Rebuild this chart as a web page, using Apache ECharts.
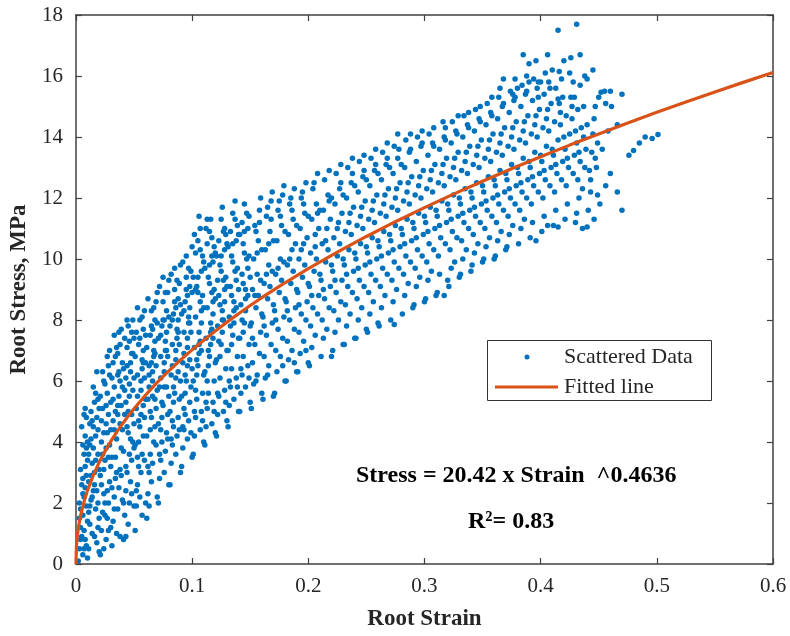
<!DOCTYPE html>
<html>
<head>
<meta charset="utf-8">
<script src="https://cdn.jsdelivr.net/npm/echarts@6/dist/echarts.min.js"></script>
<style>
html,body{margin:0;padding:0;background:#fff;}
#chart{width:790px;height:636px;}
</style>
</head>
<body>
<div id="chart"></div>
<script>
// ---- data ----
const xTicks = [0, 0.1, 0.2, 0.3, 0.4, 0.5, 0.6];
const yTicks = [0, 2, 4, 6, 8, 10, 12, 14, 16, 18];
const xTitle = 'Root Strain';
const yTitle = 'Root Stress, MPa';
const legendNames = ['Scattered Data', 'Fitted line'];
const equationText = 'Stress = 20.42 x Strain  ^0.4636';
const r2Text = 'R²= 0.83';

// fitted curve (Strain, Stress)
const fitStrain = [0, 0.0005, 0.001, 0.0015, 0.0025, 0.0035, 0.005, 0.0075, 0.01, 0.015, 0.02, 0.025, 0.03, 0.035, 0.04, 0.045, 0.05, 0.06, 0.07, 0.08, 0.09, 0.1, 0.11, 0.12, 0.13, 0.14, 0.15, 0.16, 0.175, 0.18, 0.2, 0.225, 0.25, 0.275, 0.3, 0.325, 0.35, 0.375, 0.4, 0.425, 0.45, 0.475, 0.5, 0.525, 0.55, 0.575, 0.6];
const fitStress = [0, 0.602, 0.830, 1.002, 1.270, 1.484, 1.751, 2.113, 2.414, 2.914, 3.330, 3.693, 4.018, 4.316, 4.592, 4.849, 5.092, 5.542, 5.952, 6.332, 6.688, 7.022, 7.339, 7.641, 7.930, 8.207, 8.474, 8.731, 9.102, 9.221, 9.683, 10.226, 10.739, 11.223, 11.686, 12.127, 12.552, 12.959, 13.353, 13.734, 14.102, 14.461, 14.809, 15.148, 15.478, 15.799, 16.114];

// scattered data, grouped by strain range
const scatterA = [ // 0 - 0.05
[0.002,0.1],[0.003,0.5],[0.004,1.2],[0.003,2.0],[0.005,2.6],[0.004,3.1],[0.006,0.3],[0.006,1.6],[0.007,2.2],[0.007,3.6],[0.008,0.8],[0.008,4.2],[0.009,1.9],[0.009,2.9],[0.010,0.2],[0.010,3.4],[0.005,4.5],[0.008,5.1],[0.006,3.9],[0.009,4.8],[0.004,0.8],[0.007,1.1],[0.010,1.4],[0.009,0.6],[0.003,1.5],[0.008,2.5],[0.010,4.0],[0.006,2.8],[0.005,0.9],[0.007,4.9],
[0.011,0.5],[0.012,1.3],[0.013,2.1],[0.011,2.7],[0.014,3.3],[0.012,3.9],[0.015,4.5],[0.013,5.0],[0.016,0.9],[0.017,1.8],[0.018,2.4],[0.016,3.0],[0.019,3.6],[0.017,4.2],[0.018,4.8],[0.019,5.4],[0.015,5.8],[0.018,6.3],[0.020,0.4],[0.020,1.5],[0.014,1.0],[0.012,4.6],[0.019,2.0],[0.016,2.6],[0.011,3.6],[0.013,4.1],[0.020,3.1],[0.017,5.6],[0.014,2.2],[0.019,4.4],[0.015,3.8],[0.018,0.7],[0.012,1.9],[0.020,5.1],
[0.021,0.3],[0.022,1.1],[0.023,1.7],[0.024,2.3],[0.021,2.9],[0.025,3.4],[0.022,4.0],[0.026,4.6],[0.023,5.1],[0.027,5.6],[0.024,6.0],[0.028,6.5],[0.029,7.0],[0.026,0.8],[0.027,1.5],[0.028,2.0],[0.029,2.7],[0.030,3.2],[0.026,3.8],[0.027,4.3],[0.028,4.9],[0.030,5.3],[0.025,5.9],[0.029,6.2],[0.021,5.5],[0.022,4.7],[0.024,3.1],[0.030,1.2],[0.025,2.0],[0.023,3.6],[0.028,3.5],[0.030,4.4],[0.027,6.8],[0.024,0.5],
[0.031,0.6],[0.032,1.4],[0.033,2.2],[0.034,2.8],[0.031,3.5],[0.035,4.1],[0.032,4.7],[0.036,5.2],[0.033,5.8],[0.037,6.3],[0.034,6.8],[0.038,7.2],[0.039,7.7],[0.035,1.0],[0.036,1.8],[0.037,2.5],[0.038,3.1],[0.039,3.8],[0.040,4.4],[0.036,4.9],[0.037,5.5],[0.038,6.0],[0.040,6.6],[0.035,7.1],[0.031,6.1],[0.033,4.4],[0.039,5.2],[0.040,2.1],[0.034,3.5],[0.032,5.4],[0.036,6.9],[0.038,0.9],[0.040,5.8],[0.033,7.5],
[0.041,0.8],[0.042,1.6],[0.043,2.4],[0.044,3.0],[0.041,3.7],[0.045,4.3],[0.042,4.9],[0.046,5.5],[0.043,6.1],[0.047,6.6],[0.044,7.1],[0.048,7.6],[0.049,8.0],[0.045,1.3],[0.046,2.0],[0.047,2.7],[0.048,3.4],[0.049,4.0],[0.050,4.6],[0.046,5.9],[0.047,6.3],[0.048,6.9],[0.050,7.4],[0.045,7.8],[0.041,6.4],[0.043,5.3],[0.049,5.7],[0.050,1.9],[0.044,4.5],[0.042,7.4],[0.048,4.9],[0.046,3.6],[0.050,6.1],[0.043,0.9]
];
const scatterB = [ // 0.05 - 0.10
[0.051,1.1],[0.052,1.9],[0.053,2.6],[0.054,3.2],[0.051,3.9],[0.055,4.5],[0.052,5.1],[0.056,5.7],[0.053,6.2],[0.057,6.7],[0.054,7.2],[0.058,7.7],[0.059,8.3],[0.055,2.2],[0.056,3.0],[0.057,3.6],[0.058,4.2],[0.059,4.8],[0.060,5.4],[0.056,6.0],[0.057,6.4],[0.058,7.0],[0.060,7.5],[0.055,8.0],[0.051,6.8],[0.053,5.5],[0.059,6.1],[0.060,2.0],[0.054,4.7],[0.052,7.6],[0.058,5.2],[0.053,8.4],[0.057,1.6],[0.060,6.6],
[0.061,1.5],[0.062,2.3],[0.063,3.0],[0.064,3.6],[0.061,4.2],[0.065,4.8],[0.062,5.4],[0.066,6.0],[0.063,6.5],[0.067,7.0],[0.064,7.5],[0.068,8.0],[0.069,8.6],[0.065,2.7],[0.066,3.3],[0.067,4.0],[0.068,4.5],[0.069,5.1],[0.070,5.7],[0.066,6.3],[0.067,6.8],[0.068,7.3],[0.070,7.9],[0.065,8.3],[0.061,7.1],[0.063,5.8],[0.069,6.5],[0.070,2.2],[0.064,5.0],[0.062,8.7],[0.068,5.4],[0.066,7.7],[0.063,1.9],[0.070,8.9],[0.065,6.6],
[0.071,2.0],[0.072,2.8],[0.073,3.4],[0.074,4.0],[0.071,4.6],[0.075,5.2],[0.072,5.8],[0.076,6.3],[0.073,6.8],[0.077,7.3],[0.074,7.8],[0.078,8.3],[0.079,8.9],[0.075,9.4],[0.076,3.0],[0.077,3.7],[0.078,4.3],[0.079,4.9],[0.080,5.5],[0.076,6.6],[0.077,7.0],[0.078,7.6],[0.080,8.1],[0.075,8.6],[0.071,7.4],[0.073,6.1],[0.079,6.8],[0.080,2.6],[0.074,5.3],[0.072,9.1],[0.078,5.8],[0.076,8.0],[0.080,9.3],[0.073,4.4],
[0.081,2.6],[0.082,3.3],[0.083,3.9],[0.084,4.5],[0.081,5.0],[0.085,5.6],[0.082,6.2],[0.086,6.7],[0.083,7.2],[0.087,7.7],[0.084,8.2],[0.088,8.7],[0.089,9.2],[0.085,9.7],[0.086,3.6],[0.087,4.2],[0.088,4.8],[0.089,5.4],[0.090,6.0],[0.086,7.0],[0.087,7.4],[0.088,8.0],[0.090,8.5],[0.085,9.0],[0.081,7.8],[0.083,6.5],[0.089,7.2],[0.090,3.0],[0.084,5.8],[0.082,9.5],[0.088,6.3],[0.086,8.4],[0.090,9.8],[0.083,4.7],
[0.091,3.2],[0.092,3.8],[0.093,4.4],[0.094,4.9],[0.091,5.5],[0.095,6.0],[0.092,6.6],[0.096,7.1],[0.093,7.6],[0.097,8.1],[0.094,8.6],[0.098,9.1],[0.099,9.6],[0.095,10.1],[0.096,4.1],[0.097,4.7],[0.098,5.3],[0.099,5.8],[0.100,6.4],[0.096,7.4],[0.097,7.9],[0.098,8.4],[0.100,8.9],[0.095,9.4],[0.091,8.2],[0.093,6.9],[0.099,7.6],[0.100,3.5],[0.094,6.2],[0.092,9.9],[0.098,6.7],[0.096,8.8],[0.100,10.4],[0.093,5.1]
];
const scatterC = [ // 0.10 - 0.20
[0.101,3.6],[0.102,4.2],[0.103,4.8],[0.104,5.4],[0.101,6.0],[0.105,6.5],[0.102,7.1],[0.106,7.6],[0.103,8.1],[0.107,8.6],[0.104,9.1],[0.108,9.6],[0.109,10.1],[0.105,10.6],[0.106,11.4],[0.107,4.4],[0.108,5.0],[0.109,5.6],[0.110,6.2],[0.106,6.9],[0.107,7.3],[0.108,7.9],[0.110,8.4],[0.105,8.9],[0.101,9.4],[0.103,10.2],[0.109,8.8],[0.110,4.0],[0.104,6.7],[0.102,10.8],[0.108,7.0],[0.110,9.9],[0.103,5.7],[0.107,11.0],
[0.111,3.9],[0.112,4.5],[0.113,5.1],[0.114,5.6],[0.111,6.3],[0.115,6.8],[0.112,7.4],[0.116,7.9],[0.113,8.4],[0.117,8.9],[0.114,9.4],[0.118,9.9],[0.119,10.4],[0.115,10.9],[0.116,11.3],[0.117,4.6],[0.118,5.3],[0.119,6.0],[0.120,6.6],[0.116,7.2],[0.117,7.7],[0.118,8.2],[0.120,8.7],[0.115,9.2],[0.111,9.7],[0.113,10.5],[0.119,9.0],[0.120,4.3],[0.114,7.0],[0.112,11.0],[0.118,7.4],[0.120,10.2],[0.113,6.0],[0.117,10.7],
[0.121,4.2],[0.122,4.9],[0.123,5.5],[0.124,6.1],[0.121,6.7],[0.125,7.2],[0.122,7.8],[0.126,8.3],[0.123,8.8],[0.127,9.3],[0.124,9.8],[0.128,10.3],[0.129,10.8],[0.125,11.3],[0.126,11.7],[0.127,5.0],[0.128,5.7],[0.129,6.4],[0.130,7.0],[0.126,7.6],[0.127,8.0],[0.128,8.6],[0.130,9.1],[0.125,9.6],[0.121,10.1],[0.123,10.6],[0.129,9.4],[0.130,4.7],[0.124,8.5],[0.128,11.0],[0.122,9.3],[0.130,10.5],
[0.131,4.5],[0.132,5.2],[0.133,5.8],[0.134,6.4],[0.131,7.0],[0.135,7.5],[0.132,8.1],[0.136,8.6],[0.133,9.1],[0.137,9.6],[0.134,10.1],[0.138,10.6],[0.139,11.1],[0.135,11.5],[0.137,11.9],[0.136,5.4],[0.138,6.1],[0.139,6.8],[0.140,7.4],[0.136,7.9],[0.138,8.4],[0.140,9.0],[0.135,9.9],[0.131,10.4],[0.133,10.9],[0.139,9.7],[0.140,5.0],[0.134,8.8],[0.140,10.8],
[0.141,5.0],[0.142,5.6],[0.143,6.2],[0.144,6.8],[0.141,7.4],[0.145,7.9],[0.142,8.5],[0.146,9.0],[0.143,9.5],[0.147,10.0],[0.144,10.5],[0.148,11.0],[0.149,11.4],[0.145,11.8],[0.146,5.8],[0.148,6.5],[0.149,7.2],[0.150,7.8],[0.146,8.3],[0.148,8.8],[0.150,9.4],[0.145,10.2],[0.141,10.8],[0.143,11.2],[0.149,10.1],[0.150,5.3],[0.144,9.2],
[0.151,5.1],[0.153,5.9],[0.152,6.6],[0.154,7.2],[0.151,7.9],[0.155,8.4],[0.152,9.0],[0.156,9.5],[0.153,10.0],[0.157,10.6],[0.154,11.1],[0.158,11.6],[0.159,12.0],[0.156,6.2],[0.158,6.9],[0.159,7.6],[0.160,8.2],[0.157,8.8],[0.159,9.3],[0.160,10.3],[0.155,10.9],[0.160,5.6],
[0.161,5.4],[0.163,6.1],[0.162,6.8],[0.164,7.5],[0.161,8.1],[0.165,8.7],[0.162,9.2],[0.166,9.8],[0.163,10.3],[0.167,10.9],[0.164,11.4],[0.168,11.9],[0.166,6.5],[0.168,7.2],[0.169,7.9],[0.170,8.5],[0.167,9.1],[0.169,9.6],[0.170,10.6],[0.165,11.7],[0.170,5.5],[0.169,12.2],
[0.171,5.6],[0.173,6.3],[0.172,7.0],[0.174,7.7],[0.171,8.3],[0.175,8.9],[0.172,9.5],[0.176,10.0],[0.173,10.6],[0.177,11.1],[0.174,11.6],[0.178,12.1],[0.176,6.8],[0.178,7.4],[0.179,8.1],[0.180,8.7],[0.177,9.3],[0.179,9.9],[0.180,10.9],[0.175,11.9],[0.180,6.0],[0.179,12.4],
[0.181,6.0],[0.183,6.7],[0.182,7.3],[0.184,8.0],[0.181,8.6],[0.185,9.2],[0.182,9.8],[0.186,10.3],[0.183,10.8],[0.187,11.3],[0.184,11.8],[0.188,12.3],[0.186,7.0],[0.188,7.7],[0.189,8.4],[0.190,9.0],[0.187,9.6],[0.189,10.5],[0.190,11.1],[0.185,12.0],[0.190,6.3],
[0.191,6.3],[0.193,6.9],[0.192,7.6],[0.194,8.2],[0.191,8.9],[0.195,9.4],[0.192,10.0],[0.196,10.5],[0.193,11.0],[0.197,11.5],[0.194,12.0],[0.198,12.5],[0.196,7.3],[0.198,8.0],[0.199,8.6],[0.200,9.2],[0.197,9.8],[0.199,10.7],[0.200,11.4],[0.195,12.2],[0.200,6.6]
];
const scatterD = [ // 0.20 - 0.30
[0.201,6.5],[0.203,7.1],[0.202,7.8],[0.204,8.4],[0.201,9.1],[0.205,9.6],[0.202,10.2],[0.206,10.8],[0.203,11.3],[0.207,11.8],[0.204,12.3],[0.208,12.8],[0.206,7.5],[0.208,8.2],[0.209,8.8],[0.210,9.5],[0.207,10.0],[0.209,11.0],[0.210,11.6],[0.205,12.5],
[0.211,6.8],[0.213,7.4],[0.212,8.0],[0.214,8.7],[0.211,9.3],[0.215,9.9],[0.212,10.5],[0.216,11.0],[0.213,11.6],[0.217,12.1],[0.214,12.6],[0.218,12.9],[0.216,7.7],[0.218,8.4],[0.219,9.1],[0.220,9.8],[0.217,10.3],[0.219,11.3],[0.220,12.0],[0.220,6.8],
[0.221,7.0],[0.223,7.6],[0.222,8.3],[0.224,8.9],[0.221,9.6],[0.225,10.1],[0.222,10.7],[0.226,11.2],[0.223,11.8],[0.227,12.3],[0.224,12.8],[0.228,13.1],[0.226,8.0],[0.228,8.6],[0.229,9.3],[0.230,10.0],[0.227,10.5],[0.229,11.5],[0.230,12.1],[0.230,7.2],
[0.231,7.2],[0.233,7.8],[0.232,8.5],[0.234,9.1],[0.231,9.8],[0.235,10.3],[0.232,10.9],[0.236,11.5],[0.233,12.0],[0.237,12.5],[0.234,13.0],[0.238,13.3],[0.236,8.2],[0.238,8.9],[0.239,9.6],[0.240,10.2],[0.237,10.8],[0.239,11.7],[0.240,12.4],[0.240,7.4],
[0.241,7.4],[0.243,8.0],[0.242,8.7],[0.244,9.3],[0.241,10.0],[0.245,10.5],[0.242,11.1],[0.246,11.7],[0.243,12.2],[0.247,12.7],[0.244,13.2],[0.248,13.4],[0.246,8.4],[0.248,9.1],[0.249,9.8],[0.250,10.4],[0.247,11.0],[0.249,11.9],[0.250,12.6],[0.250,7.7],
[0.251,7.6],[0.253,8.2],[0.252,8.9],[0.254,9.5],[0.251,10.2],[0.255,10.7],[0.252,11.3],[0.256,11.9],[0.253,12.4],[0.257,12.9],[0.254,13.3],[0.258,13.6],[0.256,8.6],[0.258,9.3],[0.259,10.0],[0.260,10.6],[0.257,11.2],[0.259,12.1],[0.260,12.8],[0.260,7.9],
[0.261,7.8],[0.263,8.4],[0.262,9.1],[0.264,9.7],[0.261,10.4],[0.265,10.9],[0.262,11.5],[0.266,12.1],[0.263,12.6],[0.267,13.1],[0.264,13.5],[0.268,13.8],[0.266,8.8],[0.268,9.5],[0.269,10.2],[0.270,10.8],[0.267,11.4],[0.269,12.3],[0.270,13.0],
[0.271,8.0],[0.274,7.85],[0.273,8.6],[0.272,9.3],[0.274,9.9],[0.271,10.6],[0.275,11.1],[0.272,11.7],[0.276,12.3],[0.273,12.8],[0.277,13.3],[0.274,13.7],[0.277,14.1],[0.276,9.0],[0.278,9.7],[0.279,10.4],[0.280,11.0],[0.277,11.6],[0.279,12.5],[0.280,13.1],
[0.281,8.2],[0.283,8.8],[0.282,9.5],[0.284,10.1],[0.281,10.8],[0.285,11.3],[0.282,11.9],[0.286,12.5],[0.283,13.0],[0.287,13.5],[0.284,13.9],[0.288,14.1],[0.286,9.2],[0.288,9.9],[0.289,10.6],[0.290,11.2],[0.287,11.8],[0.289,12.7],[0.290,8.4],
[0.291,8.5],[0.293,9.1],[0.292,9.7],[0.294,10.3],[0.291,11.0],[0.295,11.5],[0.292,12.1],[0.296,12.7],[0.293,13.2],[0.297,13.7],[0.294,14.0],[0.298,14.2],[0.296,9.4],[0.298,10.1],[0.299,10.8],[0.300,11.4],[0.297,12.0],[0.299,12.9],[0.300,8.6]
];
const scatterE = [ // 0.30 - 0.40
[0.301,8.7],[0.303,9.3],[0.302,9.9],[0.304,10.5],[0.301,11.2],[0.305,11.7],[0.302,12.3],[0.306,12.9],[0.303,13.4],[0.307,13.8],[0.304,14.1],[0.308,14.3],[0.306,9.6],[0.308,10.3],[0.309,11.0],[0.310,11.6],[0.307,12.2],[0.309,13.1],[0.310,8.8],
[0.311,8.9],[0.313,9.5],[0.312,10.1],[0.314,10.7],[0.311,11.4],[0.315,11.9],[0.312,12.5],[0.316,13.1],[0.313,13.6],[0.317,14.0],[0.316,14.5],[0.318,14.3],[0.317,8.8],[0.318,10.5],[0.319,11.2],[0.320,11.8],[0.317,12.4],[0.319,13.3],[0.320,9.3],
[0.321,9.1],[0.323,9.7],[0.322,10.3],[0.324,10.9],[0.321,11.6],[0.325,12.1],[0.322,12.7],[0.326,13.3],[0.323,13.8],[0.327,14.2],[0.324,14.5],[0.329,14.7],[0.326,9.9],[0.328,10.7],[0.329,11.4],[0.330,12.0],[0.327,12.6],[0.329,13.5],[0.330,9.4],
[0.331,9.5],[0.333,10.0],[0.332,10.6],[0.334,11.2],[0.331,11.8],[0.335,12.3],[0.332,12.9],[0.336,13.5],[0.333,14.0],[0.337,14.4],[0.334,14.7],[0.338,14.8],[0.336,10.3],[0.338,11.0],[0.339,11.6],[0.340,12.2],[0.337,12.8],[0.339,13.7],[0.340,9.6],
[0.341,9.8],[0.343,10.2],[0.342,10.8],[0.344,11.4],[0.341,12.0],[0.345,12.5],[0.342,13.1],[0.346,13.7],[0.343,14.2],[0.347,14.6],[0.344,14.9],[0.348,15.0],[0.346,10.5],[0.348,11.2],[0.349,11.8],[0.350,12.4],[0.347,13.0],[0.349,13.9],[0.350,9.9],
[0.351,10.0],[0.353,10.4],[0.352,11.0],[0.354,11.6],[0.351,12.2],[0.355,12.7],[0.352,13.3],[0.356,13.9],[0.353,14.4],[0.357,14.8],[0.354,15.1],[0.358,15.3],[0.356,10.7],[0.358,11.4],[0.359,12.0],[0.360,12.6],[0.357,13.2],[0.359,14.1],[0.360,10.0],
[0.361,10.1],[0.363,10.6],[0.362,11.2],[0.364,11.8],[0.361,12.4],[0.365,12.9],[0.362,13.5],[0.366,14.1],[0.363,14.6],[0.367,15.0],[0.364,15.3],[0.368,15.9],[0.365,15.6],[0.366,10.9],[0.368,11.6],[0.369,12.2],[0.370,12.8],[0.367,13.4],[0.369,14.3],[0.370,10.3],
[0.371,10.4],[0.373,10.8],[0.372,11.4],[0.374,12.0],[0.371,12.6],[0.375,13.1],[0.372,13.7],[0.376,14.3],[0.373,14.8],[0.377,15.2],[0.374,15.5],[0.378,15.9],[0.376,15.4],[0.376,11.1],[0.378,11.8],[0.379,12.4],[0.380,13.0],[0.377,13.6],[0.379,14.5],[0.380,15.6],
[0.381,10.5],[0.383,11.0],[0.382,11.6],[0.384,12.2],[0.381,12.8],[0.385,13.3],[0.382,13.9],[0.386,14.5],[0.383,15.0],[0.387,15.4],[0.384,15.7],[0.385,16.7],[0.388,16.0],[0.386,11.3],[0.388,12.0],[0.389,12.6],[0.390,13.2],[0.387,13.8],[0.389,14.7],[0.390,16.4],[0.390,15.8],
[0.391,10.7],[0.393,11.2],[0.392,11.8],[0.394,12.4],[0.391,13.0],[0.395,13.5],[0.392,14.1],[0.396,14.7],[0.393,15.2],[0.397,15.6],[0.394,15.9],[0.396,16.5],[0.398,15.8],[0.396,10.6],[0.398,12.2],[0.399,12.8],[0.400,13.4],[0.397,14.0],[0.399,14.9],[0.400,15.8]
];
const scatterF = [ // 0.40 - 0.50
[0.401,10.9],[0.403,11.4],[0.402,12.0],[0.404,12.6],[0.401,13.2],[0.405,13.7],[0.402,14.3],[0.406,14.9],[0.403,15.4],[0.407,15.8],[0.404,16.1],[0.406,16.7],[0.410,16.2],[0.406,11.1],[0.408,12.4],[0.409,13.0],[0.410,13.6],[0.407,14.2],[0.409,15.1],
[0.411,11.1],[0.415,11.05],[0.413,11.6],[0.412,12.2],[0.414,12.8],[0.411,13.4],[0.415,13.9],[0.412,14.5],[0.416,15.1],[0.413,15.6],[0.415,15.25],[0.416,16.15],[0.415,17.5],[0.418,12.6],[0.419,13.2],[0.420,14.0],[0.417,14.4],[0.419,15.3],[0.420,16.5],
[0.421,11.3],[0.423,11.8],[0.422,12.4],[0.424,13.0],[0.421,13.6],[0.425,14.1],[0.422,14.7],[0.426,15.3],[0.425,16.1],[0.426,16.6],[0.428,12.8],[0.429,13.4],[0.430,14.2],[0.427,14.6],[0.429,15.3],[0.430,11.2],[0.431,17.7],
[0.431,11.5],[0.433,12.0],[0.432,12.6],[0.434,13.2],[0.431,13.8],[0.435,14.3],[0.432,14.9],[0.434,15.7],[0.434,16.7],[0.436,12.3],[0.438,13.0],[0.439,13.6],[0.440,14.4],[0.437,15.0],[0.440,15.9],[0.440,11.05],[0.436,11.0],
[0.441,11.6],[0.443,12.2],[0.442,12.9],[0.444,13.5],[0.445,14.1],[0.446,14.6],[0.445,16.2],[0.447,15.0],[0.448,13.0],[0.449,13.8],[0.450,15.3],[0.446,11.3],[0.449,12.1],
[0.452,15.47],[0.455,15.5],[0.456,15.1],[0.460,15.5],[0.461,15.0],[0.470,15.4],[0.466,14.4],[0.456,12.4],[0.460,12.8],[0.466,12.2],[0.470,11.6],[0.476,13.4],[0.480,13.56],[0.485,13.8],[0.490,14.0],[0.496,13.95],[0.501,14.08],[0.453,13.6],[0.458,14.2],[0.451,11.8]
];
const scatterG = [ // extra points filling the dense cloud
[0.004,1.8],[0.006,2.3],[0.008,3.2],[0.007,0.5],[0.009,3.8],[0.011,1.7],[0.013,2.9],[0.015,2.4],[0.017,3.4],[0.014,4.7],[0.016,5.3],[0.019,1.2],[0.022,2.6],[0.024,4.3],[0.026,5.2],[0.023,6.3],[0.028,1.1],[0.025,1.6],[0.029,3.9],[0.027,2.4],[0.031,2.5],[0.033,1.8],[0.035,3.0],[0.034,5.0],[0.036,6.2],[0.038,4.6],[0.032,6.6],[0.039,2.9],[0.037,7.6],[0.041,2.0],[0.043,3.2],[0.045,5.0],[0.044,6.5],[0.047,4.1],[0.049,6.9],[0.046,7.3],[0.048,2.3],[0.042,5.7],[0.050,3.8],[0.044,8.0],
[0.052,2.4],[0.054,4.0],[0.056,4.9],[0.058,6.6],[0.055,7.4],[0.059,3.4],[0.057,8.1],[0.053,3.5],[0.062,3.2],[0.064,4.4],[0.066,5.5],[0.068,6.9],[0.065,7.8],[0.069,3.9],[0.067,8.4],[0.063,6.2],[0.072,3.6],[0.074,4.8],[0.076,5.8],[0.078,7.0],[0.075,8.0],[0.079,4.1],[0.077,8.9],[0.073,7.5],[0.082,4.1],[0.084,5.3],[0.086,6.1],[0.088,7.6],[0.085,8.6],[0.089,4.4],[0.087,9.3],[0.083,8.0],[0.092,4.5],[0.094,5.6],[0.096,6.5],[0.098,7.9],[0.095,9.0],[0.099,4.3],[0.097,9.7],[0.093,8.3],
[0.102,5.0],[0.104,6.2],[0.106,7.2],[0.108,8.3],[0.105,9.4],[0.109,4.7],[0.107,10.3],[0.103,9.0],[0.112,5.3],[0.114,6.5],[0.116,7.6],[0.118,8.6],[0.115,9.8],[0.119,5.0],[0.117,10.1],[0.113,11.3],[0.122,5.6],[0.124,6.8],[0.126,8.0],[0.128,9.0],[0.125,10.1],[0.129,5.3],[0.127,10.9],[0.123,7.3],[0.132,6.0],[0.134,7.2],[0.136,8.3],[0.138,9.3],[0.135,10.5],[0.139,5.8],[0.137,11.3],[0.133,7.8],[0.142,6.4],[0.144,7.6],[0.146,8.7],[0.148,9.7],[0.145,10.9],[0.149,6.1],[0.147,11.5],[0.143,8.0],
[0.152,7.4],[0.154,8.8],[0.156,10.2],[0.158,11.2],[0.155,6.0],[0.162,7.8],[0.164,9.5],[0.166,10.5],[0.168,11.3],[0.165,6.2],[0.172,8.0],[0.174,9.7],[0.176,11.4],[0.178,6.5],[0.182,8.3],[0.184,10.0],[0.186,11.6],[0.188,6.6],[0.192,8.5],[0.194,10.3],[0.196,11.8],[0.198,7.0],
[0.203,8.8],[0.206,10.4],[0.208,11.5],[0.213,9.0],[0.215,10.6],[0.218,11.9],[0.223,9.3],[0.225,11.0],[0.228,12.5],[0.233,9.5],[0.235,11.2],[0.238,12.8],[0.243,9.7],[0.245,11.4],[0.248,12.9],[0.253,9.9],[0.255,11.6],[0.258,13.1],[0.263,10.1],[0.265,11.8],[0.268,13.3],[0.273,10.3],[0.275,12.0],[0.278,13.6],[0.283,10.5],[0.285,12.2],[0.288,13.6],[0.293,10.7],[0.295,12.4],[0.298,13.8],
[0.303,10.9],[0.305,12.6],[0.308,13.7],[0.313,11.1],[0.315,12.8],[0.318,13.9],[0.323,11.3],[0.325,13.0],[0.328,14.1],[0.333,11.5],[0.335,13.2],[0.338,14.3],[0.343,11.7],[0.345,13.4],[0.348,14.5],[0.353,11.9],[0.355,13.6],[0.358,14.7],[0.363,12.1],[0.365,13.8],[0.368,15.1],[0.373,12.3],[0.375,14.0],[0.378,15.3],[0.383,12.5],[0.385,14.2],[0.388,15.5],[0.393,12.7],[0.395,14.4],[0.398,15.3],[0.403,12.9],[0.405,14.6],[0.408,15.6],[0.413,13.1],[0.417,14.8],[0.418,15.9],[0.423,13.3],[0.427,15.0],[0.428,15.8],[0.433,13.5],[0.437,14.0],[0.438,16.0],[0.443,12.6],[0.447,13.3]
];

// ---- chart ----
const scatterPoints = [].concat(scatterA, scatterB, scatterC, scatterD, scatterE, scatterF, scatterG);
const fitData = fitStrain.map((x, i) => [x, fitStress[i]]);

const BLUE = '#0072BD';
const ORANGE = '#D95319';
const AXIS = '#404040';
const TXT = '#262626';
const FONT = '"Liberation Serif", "Times New Roman", serif';

const chart = echarts.init(document.getElementById('chart'), null, {renderer: 'canvas'});

const G = {left: 74, top: 15, right: 773, bottom: 569};

const baseAxis = {
  splitLine: {show: false},
  axisLine: {show: true, onZero: false, lineStyle: {color: AXIS, width: 1.5}},
  axisTick: {show: true, inside: true, length: 6, lineStyle: {color: AXIS, width: 1.2}},
};

chart.setOption({
  animation: false,
  backgroundColor: '#ffffff',
  textStyle: {fontFamily: FONT},
  grid: {left: G.left, top: G.top, width: G.right - G.left, height: G.bottom - G.top, containLabel: false},
  xAxis: [
    Object.assign({}, baseAxis, {
      type: 'value', min: xTicks[0], max: xTicks[xTicks.length - 1], interval: 0.1, position: 'bottom',
      name: xTitle, nameLocation: 'middle', nameGap: 44,
      nameTextStyle: {fontFamily: FONT, fontSize: 23, fontWeight: 'bold', color: TXT},
      axisLabel: {fontFamily: FONT, fontSize: 21, color: TXT, margin: 12,
        formatter: v => (Math.abs(v) < 1e-9 ? '0' : String(+v.toFixed(1)))}
    }),
    Object.assign({}, baseAxis, {
      type: 'value', min: xTicks[0], max: xTicks[xTicks.length - 1], interval: 0.1, position: 'top',
      axisLabel: {show: false}
    })
  ],
  yAxis: [
    Object.assign({}, baseAxis, {
      type: 'value', min: yTicks[0], max: yTicks[yTicks.length - 1], interval: 2, position: 'left',
      name: yTitle, nameLocation: 'middle', nameGap: 36, nameRotate: 90,
      nameTextStyle: {fontFamily: FONT, fontSize: 23, fontWeight: 'bold', color: TXT},
      axisLabel: {fontFamily: FONT, fontSize: 21, color: TXT, margin: 13}
    }),
    Object.assign({}, baseAxis, {
      type: 'value', min: yTicks[0], max: yTicks[yTicks.length - 1], interval: 2, position: 'right',
      axisLabel: {show: false}
    })
  ],
  series: [
    {
      name: legendNames[0], type: 'scatter', data: scatterPoints,
      symbol: 'circle', symbolSize: 5.5,
      itemStyle: {color: BLUE, opacity: 1},
      z: 2
    },
    {
      name: legendNames[1], type: 'line', data: fitData,
      showSymbol: false, smooth: false,
      lineStyle: {color: ORANGE, width: 3.2},
      itemStyle: {color: ORANGE},
      z: 3
    }
  ],
  graphic: [
    // legend box
    {type: 'rect', shape: {x: 487.5, y: 340.5, width: 224, height: 60},
     style: {fill: '#ffffff', stroke: '#333333', lineWidth: 1}, z: 10},
    {type: 'circle', shape: {cx: 527, cy: 357, r: 2.5}, style: {fill: BLUE}, z: 11},
    {type: 'line', shape: {x1: 495, y1: 387, x2: 558, y2: 387},
     style: {stroke: ORANGE, lineWidth: 3.2}, z: 11},
    {type: 'text', x: 564, y: 357, z: 11,
     style: {text: legendNames[0], fontFamily: FONT, fontSize: 22, fill: TXT, verticalAlign: 'middle'}},
    {type: 'text', x: 564, y: 387, z: 11,
     style: {text: legendNames[1], fontFamily: FONT, fontSize: 22, fill: TXT, verticalAlign: 'middle'}},
    // annotations
    {type: 'text', x: 356, y: 476, z: 11,
     style: {text: equationText, fontFamily: FONT, fontSize: 24, fontWeight: 'bold', fill: '#000000', verticalAlign: 'middle'}},
    {type: 'text', x: 468, y: 522, z: 11,
     style: {text: r2Text, fontFamily: FONT, fontSize: 24, fontWeight: 'bold', fill: '#000000', verticalAlign: 'middle'}}
  ]
});
</script>
</body>
</html>
